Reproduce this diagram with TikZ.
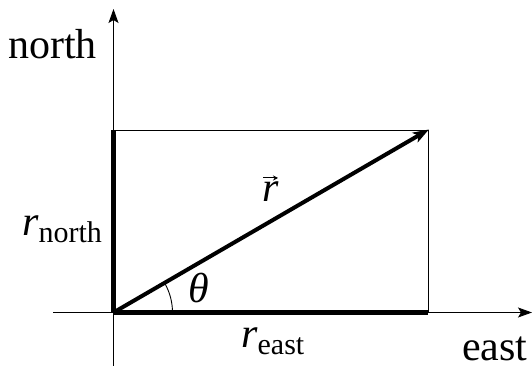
\documentclass[tikz,border=0pt]{standalone}
\usepackage{fontspec}
\setmainfont{Liberation Serif}
\usetikzlibrary{arrows.meta}
\begin{document}
\begin{tikzpicture}[x=1pt,y=1pt,
  thin line/.style={line width=0.9pt},
  thick line/.style={line width=4.5pt},
  axis/.style={thin line,-{Stealth[length=14pt,width=10pt,inset=3pt]}},
  lbl/.style={inner sep=0pt,font=\fontsize{42}{48}\selectfont},
  sub/.style={font=\fontsize{30}{34}\selectfont}]
\useasboundingbox (0,0) rectangle (532,366);
\coordinate (O) at (113.5,53.5);
\coordinate (P) at (428,236);
\coordinate (N) at (113.5,236);
\coordinate (E) at (428,53.5);
\coordinate (axB) at (113.5,0);
\coordinate (axT) at (113.5,357);
\coordinate (axL) at (53,53.5);
\coordinate (axR) at (532,53.5);
% axes
\draw[axis] (axB) -- (axT);
\draw[axis] (axL) -- (axR);
% rectangle
\draw[thin line] (N) -- (P) -- (E);
% components
\draw[thick line] (O) -- (N);
\draw[thick line] (O) -- (E);
% vector
\draw[line width=4pt,-{Stealth[length=16pt,width=11pt,inset=4pt]},shorten >=-1pt] (O) -- (P);
% angle arc
\draw[thin line] (O) ++(59,0) arc[start angle=0,end angle=30.1,radius=59];
% labels
\node[lbl,anchor=base west] (north) at (8,307) {north};
\node[lbl,anchor=base west] (east) at (462,5) {east};
\node[lbl,anchor=base west] (rn) at (22,130) {\textit{r}\raisebox{-7pt}{\fontsize{30}{34}\selectfont north}};
\node[lbl,anchor=base west] (re) at (241,18) {\textit{r}\raisebox{-7pt}{\fontsize{30}{34}\selectfont east}};
\node[lbl,anchor=base west] (th) at (188,63) {\textit{θ}};
\node[lbl,anchor=base west] (rv) at (262,164) {\textit{r}};
\coordinate (va) at (263,188);
\coordinate (vb) at (278,188);
\draw[line width=1pt,-{Stealth[length=5pt,width=5pt]}] (va) -- (vb);
\end{tikzpicture}
\end{document}
